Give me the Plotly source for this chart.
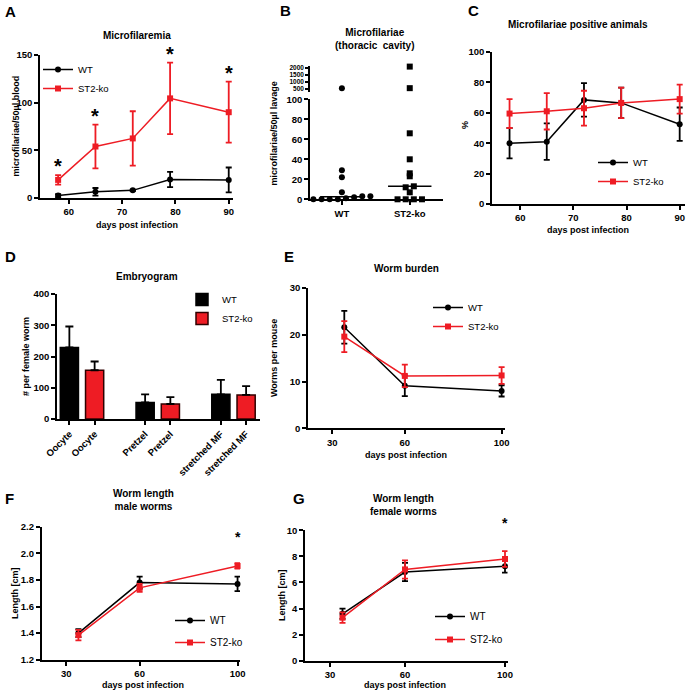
import numpy as np
import plotly.graph_objects as go

# ---------------- data ----------------
# A: Microfilaremia
a_days = [58, 65, 72, 79, 90]
a_wt = [2.5, 6.5, 8.0, 19.5, 19.0]
a_wt_err = [1.5, 4.0, 0.8, 8.0, 13.0]
a_ko = [19.0, 54.0, 62.5, 104.5, 90.0]
a_ko_err = [5.0, 23.0, 28.5, 37.5, 32.0]
a_sig = [True, True, False, True, True]

# B: Microfilariae in thoracic cavity
b_groups = ["WT", "ST2-ko"]
b_wt = [550, 29, 22, 7, 3, 3, 2, 1, 0, 0, 0, 0]
b_ko = [2100, 560, 66, 40, 26, 23, 13, 12, 7, 0, 0, 0, 0]
b_upper_ticks = [500, 1000, 1500, 2000]

# C: Microfilariae positive animals (%)
c_days = [58, 65, 72, 79, 90]
c_wt = [40, 41, 68.5, 66.5, 52.5]
c_wt_err = [10, 12, 11, 10, 11]
c_ko = [59.5, 61, 63, 66.5, 69]
c_ko_err = [9.5, 12, 11.5, 10, 9.5]

# D: Embryogram
d_stages = ["Oocyte", "Pretzel", "stretched MF"]
d_wt = [229, 53, 79]
d_wt_err = [67, 26, 46]
d_ko = [156, 48, 77]
d_ko_err = [28, 22, 28]

# E: Worm burden
e_days = [35, 60, 100]
e_wt = [21.6, 9.1, 8.0]
e_wt_err = [3.5, 2.2, 1.2]
e_ko = [19.6, 11.2, 11.3]
e_ko_err = [3.3, 2.4, 1.8]

# F: Worm length male
f_days = [35, 60, 100]
f_wt = [1.40, 1.78, 1.77]
f_wt_err = [0.03, 0.045, 0.055]
f_ko = [1.385, 1.74, 1.905]
f_ko_err = [0.04, 0.03, 0.02]
f_sig = [False, False, True]

# G: Worm length female
g_days = [35, 60, 100]
g_wt = [3.6, 6.8, 7.25]
g_wt_err = [0.4, 0.7, 0.5]
g_ko = [3.3, 7.0, 7.8]
g_ko_err = [0.4, 0.7, 0.6]
g_sig = [False, False, True]

# ---------------- styling ----------------
W, H = 689, 694
FONT = "Arial, Liberation Sans, sans-serif"
RED = "#ee1c24"
BLACK = "#000000"


def dx(x0, x1):
    return [x0 / W, x1 / W]


def dy(top, bottom):
    return [1 - bottom / H, 1 - top / H]


def px_x(p):
    return p / W


def px_y(p):
    return 1 - p / H


def axis(domain, rng, anchor, tickvals=None, ticktext=None, **kw):
    d = dict(domain=domain, range=rng, anchor=anchor, showline=True,
             linecolor=BLACK, linewidth=1.6, ticks="outside", ticklen=4,
             tickwidth=1.5, tickcolor=BLACK, showgrid=False, zeroline=False,
             automargin=False,
             tickfont=dict(family=FONT, size=9.5, color=BLACK, weight="bold"))
    if tickvals is not None:
        d["tickvals"] = tickvals
        d["tickmode"] = "array"
    if ticktext is not None:
        d["ticktext"] = ticktext
    d.update(kw)
    return d


fig = go.Figure()


def line_trace(x, y, err, color, symbol, name, xa, ya, legend):
    return go.Scatter(
        x=x, y=y, mode="lines+markers", name=name, legendgroup=name,
        line=dict(color=color, width=1.5),
        marker=dict(color=color, symbol=symbol, size=6),
        error_y=dict(type="data", array=err, color=color, thickness=1.8,
                     width=3, visible=True),
        xaxis=xa, yaxis=ya, legend=legend, cliponaxis=False)


# A
fig.add_trace(line_trace(a_days, a_wt, a_wt_err, BLACK, "circle", "WT", "x", "y", "legend"))
fig.add_trace(line_trace(a_days, a_ko, a_ko_err, RED, "square", "ST2-ko", "x", "y", "legend"))

# B beeswarm
def swarm(vals, center, step=0.12, thresh=1.5):
    vals = np.asarray(vals, dtype=float)
    order = np.argsort(vals)
    xs = np.zeros(len(vals))
    clusters = []
    for i in order:
        if clusters and vals[i] - vals[clusters[-1][-1]] <= thresh:
            clusters[-1].append(i)
        else:
            clusters.append([i])
    for c in clusters:
        n = len(c)
        for k, i in enumerate(c):
            xs[i] = center + (k - (n - 1) / 2) * step
    return xs


for gi, (vals, sym) in enumerate([(b_wt, "circle"), (b_ko, "square")]):
    center = gi + 1
    vals = np.asarray(vals, dtype=float)
    xs = swarm(vals, center)
    low = vals <= 100
    fig.add_trace(go.Scatter(x=xs[low], y=vals[low], mode="markers",
                             marker=dict(color=BLACK, symbol=sym, size=6),
                             xaxis="x2", yaxis="y2", showlegend=False, cliponaxis=False))
    fig.add_trace(go.Scatter(x=xs[~low], y=vals[~low], mode="markers",
                             marker=dict(color=BLACK, symbol=sym, size=6),
                             xaxis="x2", yaxis="y3", showlegend=False, cliponaxis=False))
    med = float(np.median(vals))
    fig.add_trace(go.Scatter(x=[center - 0.32, center + 0.32], y=[med, med], mode="lines",
                             line=dict(color=BLACK, width=1.5),
                             xaxis="x2", yaxis="y2", showlegend=False, cliponaxis=False))

# C
fig.add_trace(line_trace(c_days, c_wt, c_wt_err, BLACK, "circle", "WT", "x3", "y4", "legend2"))
fig.add_trace(line_trace(c_days, c_ko, c_ko_err, RED, "square", "ST2-ko", "x3", "y4", "legend2"))

# D
d_x_wt = [i * 3 + 1 for i in range(len(d_stages))]
d_x_ko = [i * 3 + 2 for i in range(len(d_stages))]
fig.add_trace(go.Bar(x=d_x_wt, y=d_wt, name="WT", width=0.72,
                     marker=dict(color=BLACK, line=dict(color=BLACK, width=1.5)),
                     error_y=dict(type="data", symmetric=False, array=d_wt_err,
                                  arrayminus=[0] * 3, color=BLACK, thickness=1.8, width=4),
                     xaxis="x4", yaxis="y5", legend="legend3"))
fig.add_trace(go.Bar(x=d_x_ko, y=d_ko, name="ST2-ko", width=0.72,
                     marker=dict(color=RED, line=dict(color="#300000", width=1.5)),
                     error_y=dict(type="data", symmetric=False, array=d_ko_err,
                                  arrayminus=[0] * 3, color=BLACK, thickness=1.8, width=4),
                     xaxis="x4", yaxis="y5", legend="legend3"))

# E
fig.add_trace(line_trace(e_days, e_wt, e_wt_err, BLACK, "circle", "WT", "x5", "y6", "legend4"))
fig.add_trace(line_trace(e_days, e_ko, e_ko_err, RED, "square", "ST2-ko", "x5", "y6", "legend4"))
# F
fig.add_trace(line_trace(f_days, f_wt, f_wt_err, BLACK, "circle", "WT", "x6", "y7", "legend5"))
fig.add_trace(line_trace(f_days, f_ko, f_ko_err, RED, "square", "ST2-ko", "x6", "y7", "legend5"))
# G
fig.add_trace(line_trace(g_days, g_wt, g_wt_err, BLACK, "circle", "WT", "x7", "y8", "legend6"))
fig.add_trace(line_trace(g_days, g_ko, g_ko_err, RED, "square", "ST2-ko", "x7", "y8", "legend6"))

d_ticks = sorted(d_x_wt + d_x_ko)
d_ticktext = [s for s in d_stages for _ in range(2)]

layout = dict(
    width=W, height=H, margin=dict(l=0, r=0, t=0, b=0),
    paper_bgcolor="white", plot_bgcolor="white",
    font=dict(family=FONT, color=BLACK),
    barmode="overlay",
    xaxis=axis(dx(40, 233), [54.6, 90.8], "y", [60, 70, 80, 90]),
    yaxis=axis(dy(55, 198), [0, 150], "x", [0, 50, 100, 150]),
    xaxis2=axis(dx(310, 443), [0.53, 2.49], "y2", [1, 2], b_groups),
    yaxis2=axis(dy(99.3, 199.3), [0, 100], "x2", [0, 20, 40, 60, 80, 100]),
    yaxis3=axis(dy(66, 92), [286, 2143], "x2", b_upper_ticks,
                [str(v) for v in b_upper_ticks], ticklen=3,
                tickfont=dict(family=FONT, size=6.5, color=BLACK, weight="bold")),
    xaxis3=axis(dx(492, 685), [54.7, 91], "y4", [60, 70, 80, 90]),
    yaxis4=axis(dy(52, 204), [0, 100], "x3", [0, 20, 40, 60, 80, 100]),
    xaxis4=axis(dx(57, 260), [0.51, 8.55], "y5", d_ticks, d_ticktext, tickangle=-45),
    yaxis5=axis(dy(294, 419), [0, 400], "x4", [0, 100, 200, 300, 400]),
    xaxis5=axis(dx(308, 505), [20, 101.4], "y6", [30, 60, 100]),
    yaxis6=axis(dy(288, 428.3), [0, 30], "x5", [0, 10, 20, 30]),
    xaxis6=axis(dx(41.7, 240), [20, 101], "y7", [30, 60, 100]),
    yaxis7=axis(dy(526.7, 659.7), [1.2, 2.2], "x6", [1.2, 1.4, 1.6, 1.8, 2.0, 2.2],
                ["1.2", "1.4", "1.6", "1.8", "2.0", "2.2"]),
    xaxis7=axis(dx(305, 507.5), [20, 101], "y8", [30, 60, 100]),
    yaxis8=axis(dy(530.3, 660.7), [0, 10], "x7", [0, 2, 4, 6, 8, 10]),
)


def legend(xp, yp, gap=0, size=10):
    return dict(x=px_x(xp), y=px_y(yp), xanchor="left", yanchor="top",
                bgcolor="rgba(0,0,0,0)", borderwidth=0, itemwidth=30,
                font=dict(family=FONT, size=size, color=BLACK), tracegroupgap=gap)


layout["legend"] = legend(38, 55, size=9.5)
layout["legend2"] = legend(593, 148, size=9.5)
layout["legend3"] = legend(182, 285, size=9.5)
layout["legend4"] = legend(428, 293, size=9.5)
layout["legend5"] = legend(170, 606, gap=3)
layout["legend6"] = legend(430, 602, gap=4)

ann = []


def text(x, y, s, size=10, bold=True, angle=0, xanchor="center", yanchor="middle"):
    ann.append(dict(x=px_x(x), y=px_y(y), xref="paper", yref="paper", text=s,
                    showarrow=False, textangle=angle, xanchor=xanchor, yanchor=yanchor,
                    font=dict(family=FONT, size=size, color=BLACK,
                              weight="bold" if bold else "normal")))


# panel letters
for lt, x, y in [("A", 3, 12), ("B", 278, 10), ("C", 466, 10), ("D", 3, 257),
                 ("E", 282, 257), ("F", 3, 499), ("G", 291, 498)]:
    text(x, y, lt, size=15, xanchor="left")

# panel titles
text(137, 35.5, "Microfilaremia")
text(375, 38.5, "Microfilariae<br>(thoracic  cavity)")
text(578, 24.5, "Microfilariae positive animals")
text(147, 276.5, "Embryogram")
text(406, 268, "Worm burden")
text(143, 500, "Worm length<br>male worms")
text(404, 505, "Worm length<br>female worms")

# axis titles
text(15, 126.5, "microfilariae/50µl blood", size=9, angle=-90)
text(137, 224.5, "days post infection", size=9)
text(273, 133.5, "microfilariae/50µl lavage", size=9, angle=-90)
text(465, 125, "%", size=9, angle=-90)
text(588, 229.5, "days post infection", size=9)
text(25.5, 356.5, "# per female worm", size=9, angle=-90)
text(274, 358, "Worms per mouse", size=9, angle=-90)
text(406, 455, "days post infection", size=9)
text(15, 593, "Length [cm]", size=9, angle=-90)
text(142.7, 685, "days post infection", size=9)
text(282, 595, "Length [cm]", size=9, angle=-90)
text(405, 685, "days post infection", size=9)

# significance asterisks (above error bar tops)
def stars(days, vals, errs, sig, xa, ya, size, shift):
    for d, v, e, s in zip(days, vals, errs, sig):
        if s:
            ann.append(dict(x=d, y=v + e, xref=xa, yref=ya, text="*", showarrow=False,
                            xanchor="center", yanchor="bottom", yshift=shift,
                            font=dict(family=FONT, size=size, color=BLACK, weight="bold")))


stars(a_days, a_ko, a_ko_err, a_sig, "x", "y", 20, -4)
stars(f_days, f_ko, f_ko_err, f_sig, "x6", "y7", 14, 16)
stars(g_days, g_ko, g_ko_err, g_sig, "x7", "y8", 14, 18)

layout["annotations"] = ann
fig.update_layout(**layout)
fig.write_html("out.html", config={"displayModeBar": False},
               post_script="document.body.style.margin='0px';document.body.style.padding='0px';")
